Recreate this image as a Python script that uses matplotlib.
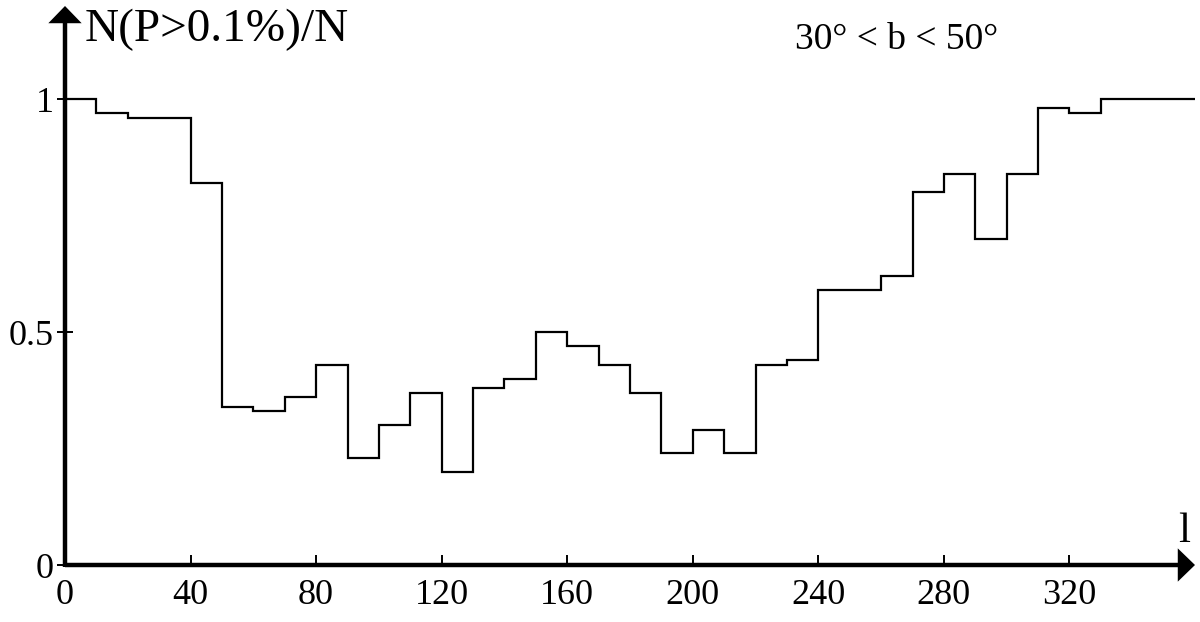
import numpy as np
import matplotlib
matplotlib.use("Agg")
import matplotlib.pyplot as plt

# Data: fraction N(P>0.1%)/N in 10-degree longitude bins
bin_edges = list(range(0, 370, 10))
fraction = [1.00, 0.97, 0.96, 0.96, 0.82, 0.34, 0.33, 0.36, 0.43, 0.23,
            0.30, 0.37, 0.20, 0.38, 0.40, 0.50, 0.47, 0.43, 0.37, 0.24,
            0.29, 0.24, 0.43, 0.44, 0.59, 0.59, 0.62, 0.80, 0.84, 0.70,
            0.84, 0.98, 0.97, 1.00, 1.00, 1.00]
x_ticks = [0, 40, 80, 120, 160, 200, 240, 280, 320]
x_ticklabels = ["0", "40", "80", "120", "160", "200", "240", "280", "320"]
y_ticks = [0, 0.5, 1]
y_ticklabels = ["0", "0.5", "1"]

plt.rcParams['font.family'] = ['Liberation Serif', 'DejaVu Serif']

W, H = 1200, 622
fig = plt.figure(figsize=(W / 100, H / 100), dpi=100)
left, right = 65, 1195
bottom, top = 565, 6
ax = fig.add_axes([left / W, (H - bottom) / H, (right - left) / W, (bottom - top) / H])

ax.stairs(fraction, bin_edges, baseline=None, color='black', lw=1.6)

ax.set_xlim(0, 360)
ax.set_ylim(0, 1.2)
for s in ax.spines.values():
    s.set_visible(False)

# axis lines
ax.plot([0, 0.99], [0, 0], transform=ax.transAxes, color='black', lw=3.2,
        clip_on=False, solid_capstyle='butt')
ax.plot([0, 0], [-0.004, 0.98], transform=ax.transAxes, color='black', lw=3.2,
        clip_on=False, solid_capstyle='butt')
# arrow heads
head_kw = dict(arrowstyle='-|>,head_length=0.62,head_width=0.6', lw=0,
               color='black', shrinkA=0, shrinkB=0, mutation_scale=20)
ax.annotate('', xy=(1, 0), xytext=(0.9, 0), xycoords='axes fraction',
            textcoords='axes fraction', arrowprops=head_kw, annotation_clip=False)
ax.annotate('', xy=(0, 1), xytext=(0, 0.9), xycoords='axes fraction',
            textcoords='axes fraction', arrowprops=head_kw, annotation_clip=False)

ax.set_xticks(x_ticks)
ax.set_xticklabels(x_ticklabels)
ax.set_yticks(y_ticks)
ax.set_yticklabels(y_ticklabels)
ax.tick_params(axis='x', direction='in', length=7.5, width=1.4, pad=10,
               labelsize=26, color='black')
ax.tick_params(axis='y', direction='inout', length=12, width=1.4, pad=2,
               labelsize=26, color='black')

ax.text(6.4, 1.125, 'N(P>0.1%)/N', fontsize=34, ha='left', va='baseline')
ax.text(232.5, 1.108, '30° < b < 50°', fontsize=27, ha='left', va='baseline')
ax.text(356.5, 0.05, 'l', fontsize=31, ha='center', va='baseline')

fig.savefig('out.png', dpi=100)
